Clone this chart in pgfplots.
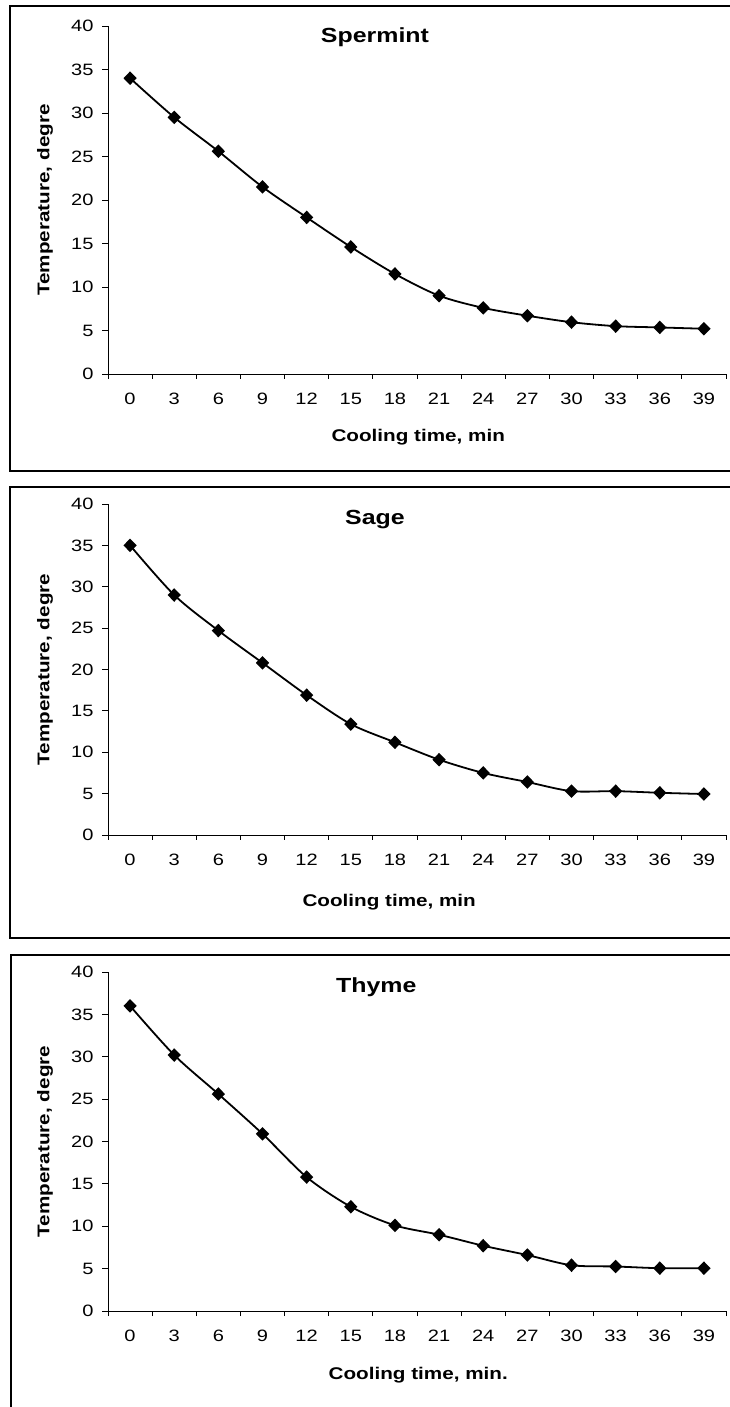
\documentclass[border=0pt]{standalone}
\usepackage{fontspec}
\setmainfont[FakeStretch=1.22]{Liberation Sans}
\usepackage{pgfplots}
\pgfplotsset{compat=1.18}
\usepackage{pgfplotstable}

\pgfplotstableread{
idx spermint sage thyme
0  34.0  35.0  36.0
1  29.5  29.0  30.2
2  25.6  24.7  25.6
3  21.5  20.8  20.9
4  18.0  16.9  15.8
5  14.6  13.4  12.3
6  11.5  11.2  10.1
7  9.0   9.1   9.0
8  7.6   7.5   7.7
9  6.7   6.4   6.6
10 5.95  5.3   5.4
11 5.5   5.3   5.25
12 5.35  5.1   5.05
13 5.2   4.95  5.05
}\cooldata

\pgfplotsset{
  panel/.style={
    scale only axis, width=618bp, anchor=south west,
    xmin=-0.5, xmax=13.5, ymin=0, ymax=40,
    ytick={0,5,...,40},
    xtick={0,...,13},
    xticklabels={0,3,6,9,12,15,18,21,24,27,30,33,36,39},
    minor xtick={-0.5,0.5,...,13.5},
    axis lines*=left,
    axis line style={-, line width=0.9bp, black},
    tick align=outside,
    major tick length=6bp, minor tick length=5bp,
    tick style={black, line width=0.9bp},
    major x tick style={draw=none},
    /pgf/number format/assume math mode=true,
    ticklabel style={font=\fontsize{16.5}{17}\selectfont},
    yticklabel style={xshift=-5bp},
    xticklabel style={yshift=-10bp},
    clip=false,
  },
  curve/.style={black, line width=1.8bp, smooth, tension=0.5,
    mark=diamond*, mark size=5.5bp, mark options={solid, fill=black, xscale=1.3}},
}
\tikzset{
  lbl/.style={font=\bfseries\fontsize{17}{18}\selectfont},
  ttl/.style={font=\bfseries\fontsize{20.5}{21}\selectfont},
}

\begin{document}
\begin{tikzpicture}
\useasboundingbox (0,0) rectangle (730bp,1407bp);
\clip (0,0) rectangle (730bp,1407bp);
% frames
\draw[line width=2.4bp] (10bp,936bp) rectangle (745bp,1401bp);
\draw[line width=2.4bp] (10bp,469bp) rectangle (745bp,920bp);
\draw[line width=2.4bp] (11bp,-10bp) rectangle (745bp,452bp);

% Panel 1
\begin{axis}[panel, height=348bp, at={(108bp,1033bp)}]
\addplot[curve] table[x=idx, y=spermint] {\cooldata};
\node[ttl] at (rel axis cs:0.432,0.968) {Spermint};
\node[lbl, yshift=-63bp] at (rel axis cs:0.502,0) {Cooling time, min};
\node[lbl, xshift=-63bp, rotate=90] at (rel axis cs:0,0.5) {Temperature, degre};
\end{axis}

% Panel 2
\begin{axis}[panel, height=331bp, at={(108bp,572bp)}]
\addplot[curve] table[x=idx, y=sage] {\cooldata};
\node[ttl] at (rel axis cs:0.432,0.952) {Sage};
\node[lbl, yshift=-67bp] at (rel axis cs:0.455,0) {Cooling time, min};
\node[lbl, xshift=-63bp, rotate=90] at (rel axis cs:0,0.5) {Temperature, degre};
\end{axis}

% Panel 3
\begin{axis}[panel, height=339bp, at={(108bp,96bp)}]
\addplot[curve] table[x=idx, y=thyme] {\cooldata};
\node[ttl] at (rel axis cs:0.434,0.954) {Thyme};
\node[lbl, yshift=-64bp] at (rel axis cs:0.502,0) {Cooling time, min.};
\node[lbl, xshift=-63bp, rotate=90] at (rel axis cs:0,0.5) {Temperature, degre};
\end{axis}
\end{tikzpicture}
\end{document}
